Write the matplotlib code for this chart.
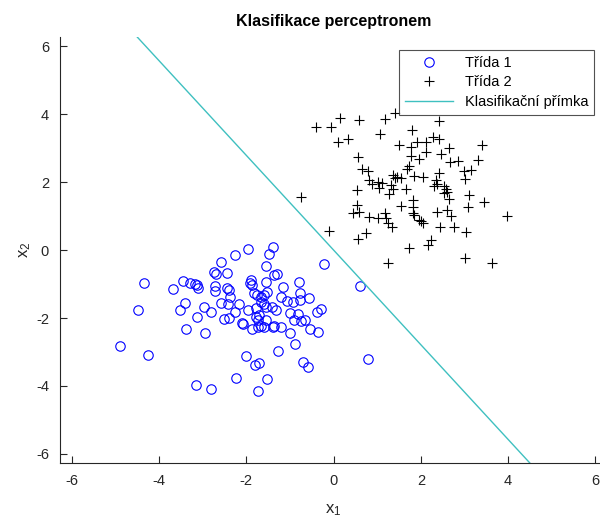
import numpy as np
import matplotlib.pyplot as plt

plt.rcParams['font.family'] = ['Liberation Sans', 'DejaVu Sans']
plt.rcParams['mathtext.default'] = 'regular'
plt.rcParams['axes.unicode_minus'] = False

# Třída 1 (circles)
x1_class1 = [-4.35, -3.69, -3.44, -3.28, -3.18, -3.12, -3.10, -2.57, -2.73, -2.69,
             -2.44, -2.25, -2.72, -2.72, -2.44, -2.38, -2.58, -2.41, -4.49, -3.41,
             -3.51, -2.98, -2.82, -3.12, -2.52, -2.26, -3.39, -2.94, -4.89, -4.25,
             -3.15, -2.81, -2.24, -1.97, -1.40, -1.49, -1.55, -0.23, -1.36, -1.30,
             -1.55, -1.89, -1.92, -1.88, 0.60, -0.79, -2.39, -1.53, -1.59, -1.67,
             -1.76, -1.83, -1.15, -0.76, -1.21, -1.07, -0.94, -0.76, -0.57, -2.16,
             -1.67, -1.59, -1.55, -1.42, -1.32, -1.97, -2.39, -1.78, -1.78, -1.70,
             -1.73, -1.01, -0.82, -0.90, -0.75, -0.66, -0.38, -0.30, -2.11, -2.07,
             -1.55, -1.36, -1.40, -1.67, -1.73, -1.60, -1.88, -1.21, -1.01, -0.55,
             -0.35, -0.89, -1.28, -2.01, -1.80, -1.72, -0.71, -0.59, 0.78, -1.53,
             -1.74]
x2_class1 = [-0.98, -1.16, -0.92, -0.97, -1.00, -1.03, -1.12, -0.36, -0.66, -0.69,
             -0.67, -0.15, -1.06, -1.20, -1.11, -1.37, -1.55, -1.59, -1.76, -1.57,
             -1.76, -1.69, -1.81, -1.98, -2.04, -1.81, -2.31, -2.45, -2.81, -3.09,
             -3.97, -4.10, -3.77, 0.02, 0.08, -0.13, -0.47, -0.41, -0.73, -0.69,
             -0.95, -0.88, -0.98, -1.03, -1.05, -0.95, -1.18, -1.23, -1.32, -1.39,
             -1.32, -1.27, -1.10, -1.26, -1.39, -1.49, -1.52, -1.47, -1.42, -1.59,
             -1.52, -1.59, -1.67, -1.67, -1.76, -1.76, -2.01, -1.71, -1.98, -1.91,
             -2.06, -1.86, -1.88, -2.06, -2.08, -2.06, -1.81, -1.74, -2.14, -2.18,
             -2.06, -2.24, -2.27, -2.24, -2.27, -2.27, -2.32, -2.27, -2.43, -2.33,
             -2.42, -2.77, -2.96, -3.12, -3.38, -3.33, -3.29, -3.44, -3.20, -3.80,
             -4.14]

# Třída 2 (pluses)
x1_class2 = [-0.41, -0.06, 0.14, 0.59, 1.18, 1.41, 0.09, 0.34, 1.06, 1.79,
             1.49, 1.77, 0.57, 1.77, 0.66, 0.78, 1.68, 1.73, 1.85, 0.82,
             0.87, 1.01, 1.05, 1.12, 1.35, 1.40, 1.45, 1.54, 1.31, 1.35,
             1.28, 0.53, 1.66, -0.75, 0.53, 0.59, 0.44, 1.54, 0.82, 1.01,
             1.18, 1.20, 1.24, 1.33, 1.83, 1.83, 1.83, -0.11, 0.74, 0.57,
             1.73, 1.24, 2.42, 2.27, 2.42, 2.11, 1.92, 3.39, 2.65, 2.11,
             2.46, 1.96, 2.67, 2.84, 3.30, 2.42, 2.34, 2.99, 3.16, 3.01,
             2.04, 2.31, 2.38, 2.54, 2.57, 2.54, 2.61, 3.11, 2.65, 3.45,
             3.07, 3.97, 2.38, 2.61, 2.69, 1.85, 1.96, 2.06, 2.00, 2.44,
             2.77, 3.03, 2.23, 2.17, 3.01, 3.62]
x2_class2 = [3.61, 3.61, 3.90, 3.84, 3.87, 4.04, 3.19, 3.26, 3.41, 3.53,
             3.09, 3.04, 2.73, 2.76, 2.38, 2.33, 2.40, 2.47, 2.18, 2.06,
             1.96, 2.01, 1.84, 1.98, 2.21, 2.11, 2.14, 2.11, 1.91, 1.81,
             1.65, 1.76, 1.81, 1.55, 1.32, 1.13, 1.08, 1.29, 0.96, 0.93,
             1.08, 0.93, 0.80, 0.69, 1.47, 1.27, 1.08, 0.57, 0.49, 0.34,
             0.05, -0.37, 3.80, 3.33, 3.26, 3.19, 3.19, 3.09, 3.02, 2.89,
             2.82, 2.67, 2.60, 2.63, 2.65, 2.27, 2.06, 2.33, 2.35, 2.08,
             2.14, 1.88, 1.96, 1.88, 1.79, 1.69, 1.71, 1.62, 1.49, 1.42,
             1.27, 1.00, 1.13, 1.18, 1.00, 1.03, 0.88, 0.80, 0.86, 0.67,
             0.69, 0.52, 0.31, 0.15, -0.24, -0.37]

# perceptron weights: w1*x1 + w2*x2 + b = 0
w = [1.394, 1.0]
b = 0.0

lim = 6.27

fig = plt.figure(figsize=(6, 5.17), dpi=100)
ax = fig.add_axes([0.100, 0.1044, 0.912, 0.8238])

ax.plot(x1_class1, x2_class1, 'o', color='blue', mfc='none', ms=6.8, mew=0.8,
        label='Třída 1')
ax.plot(x1_class2, x2_class2, '+', color='black', ms=7, mew=0.8, label='Třída 2')

x2_line = np.linspace(-lim, lim, 2)
x1_line = -(w[1] * x2_line + b) / w[0]
ax.plot(x1_line, x2_line, color='#3fc0c0', lw=1.0, label='Klasifikační přímka')

ax.set_xlim(-lim, lim)
ax.set_ylim(-lim, lim)
ax.set_xticks(np.arange(-6, 7, 2))
ax.set_yticks(np.arange(-6, 7, 2))
ax.tick_params(direction='in', length=5, width=0.8, labelsize=10.5,
               colors='#262626', pad=8)
for s in ['top', 'right']:
    ax.spines[s].set_visible(False)
for s in ['left', 'bottom']:
    ax.spines[s].set_color('#262626')
    ax.spines[s].set_linewidth(0.8)

ax.set_title('Klasifikace perceptronem', fontsize=11.5, fontweight='bold', pad=8)
ax.set_xlabel('x$_1$', fontsize=12, color='#262626', labelpad=10)
ax.set_ylabel('x$_2$', fontsize=12, color='#262626', labelpad=2)

leg = ax.legend(loc='upper right', bbox_to_anchor=(594 / 600, 1 - 50 / 517),
                bbox_transform=fig.transFigure, borderaxespad=0, fancybox=False,
                edgecolor='#262626', fontsize=10.5, handlelength=3.3,
                labelspacing=0.38, borderpad=0.4)
leg.get_frame().set_linewidth(0.8)

fig.savefig('out.png', dpi=100)
